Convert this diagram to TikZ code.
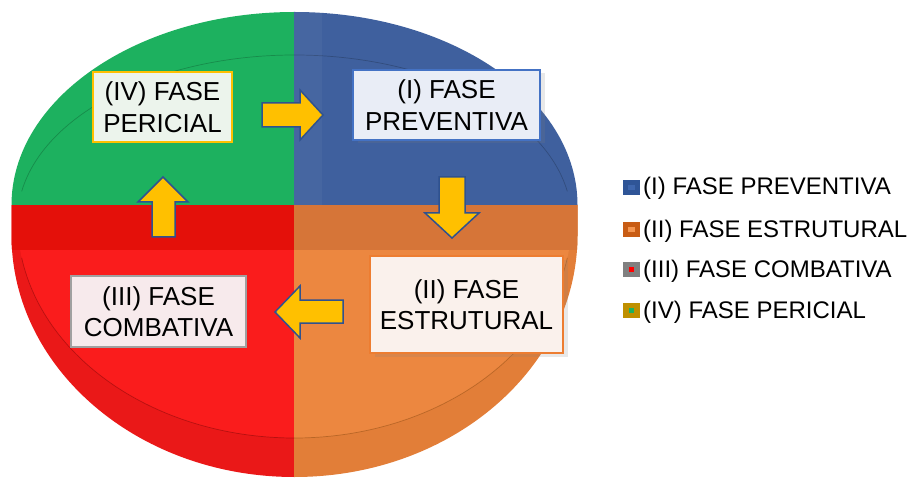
\documentclass[tikz,border=0pt]{standalone}
\usepackage{fontspec}
\setmainfont{Liberation Sans}
\usetikzlibrary{shadows}
\definecolor{pgreen}{RGB}{29,177,95}
\definecolor{pblue}{RGB}{63,96,158}
\definecolor{pred}{RGB}{250,28,28}
\definecolor{preddark}{RGB}{228,16,10}
\definecolor{predside}{RGB}{234,24,24}
\definecolor{porange}{RGB}{236,135,64}
\definecolor{porangedark}{RGB}{214,117,56}
\definecolor{porangeside}{RGB}{226,126,56}
\definecolor{arrowgold}{RGB}{255,192,0}
\definecolor{arrowedge}{RGB}{47,82,143}
\definecolor{bordgold}{RGB}{255,192,0}
\definecolor{bordblue}{RGB}{68,114,196}
\definecolor{bordorange}{RGB}{237,125,49}
\definecolor{bordgray}{RGB}{160,160,160}
\definecolor{fillgreen}{RGB}{236,244,236}
\definecolor{fillblue}{RGB}{233,237,246}
\definecolor{fillorange}{RGB}{250,241,236}
\definecolor{fillgray}{RGB}{247,234,236}
\definecolor{legblue}{RGB}{47,85,151}
\definecolor{legbluec}{RGB}{78,120,196}
\definecolor{legorange}{RGB}{200,92,20}
\definecolor{legorangec}{RGB}{244,150,80}
\definecolor{leggray}{RGB}{128,128,128}
\definecolor{leggold}{RGB}{191,144,0}
\begin{document}
\begin{tikzpicture}[x=1pt,y=-1pt,
  box/.style={draw, line width=1.8pt, align=center, inner sep=0pt,
    font=\fontsize{26}{31.5}\selectfont, text=black},
  blockarrow/.style={fill=arrowgold, draw=arrowedge, line width=1.5pt, line join=miter},
  legtext/.style={anchor=base west, inner sep=0pt, font=\fontsize{24}{28}\selectfont},
  faint/.style={line width=0.7pt, opacity=0.35}
]
\useasboundingbox (0,0) rectangle (912,478);
% pie silhouette
\path[save path=\piepath] (11.5,205) arc[start angle=180, end angle=360, x radius=283, y radius=193]
  -- (577.5,235) arc[start angle=0, end angle=180, x radius=283, y radius=242] -- cycle;
\begin{scope}
  \clip[use path=\piepath];
  \fill[pgreen] (0,0) rectangle (294,205);
  \fill[pblue] (294,0) rectangle (912,205);
  \fill[predside] (0,205) rectangle (294,478);
  \fill[porangeside] (294,205) rectangle (912,478);
  % top face (lower part)
  \begin{scope}
    \clip (294.5,220) ellipse[x radius=277, y radius=218];
    \fill[pred] (0,205) rectangle (294,478);
    \fill[porange] (294,205) rectangle (912,478);
  \end{scope}
  \fill[preddark] (0,205) rectangle (294,250);
  \fill[porangedark] (294,205) rectangle (912,250);
  % rim lines
  \draw[faint, black!70!red] (294.5,220) ++(170:277 and 218) arc[start angle=170, end angle=90, x radius=277, y radius=218];
  \draw[faint, black!60!orange] (294.5,220) ++(10:277 and 218) arc[start angle=10, end angle=90, x radius=277, y radius=218];
  \draw[faint, black!60!pgreen] (294.5,220) ++(190:277 and 165) arc[start angle=190, end angle=270, x radius=277, y radius=165];
  \draw[faint, black!60!pblue] (294.5,220) ++(270:277 and 165) arc[start angle=270, end angle=350, x radius=277, y radius=165];
  \fill[white, opacity=0.04] (294,0) rectangle (322,205);
\end{scope}
% boxes
\node[box, draw=bordgold, fill=fillgreen, minimum width=139pt, minimum height=70pt]
  (p4) at (162.5,107) {(IV) FASE\\PERICIAL};
\node[box, draw=bordblue, fill=fillblue, minimum width=187pt, minimum height=70pt,
  drop shadow={shadow xshift=5pt, shadow yshift=-3pt, opacity=0.18, fill=gray}]
  (p1) at (446.5,105) {(I) FASE\\PREVENTIVA};
\node[box, draw=bordorange, fill=fillorange, minimum width=193pt, minimum height=97pt,
  drop shadow={shadow xshift=5pt, shadow yshift=-4pt, opacity=0.18, fill=gray}]
  (p2) at (466.5,304.5) {(II) FASE\\ESTRUTURAL};
\node[box, draw=bordgray, fill=fillgray, minimum width=175pt, minimum height=71pt]
  (p3) at (158.5,311.5) {(III) FASE\\COMBATIVA};
% block arrows
\draw[blockarrow] (262,103) -- (300,103) -- (300,90) -- (323,115) -- (300,140) -- (300,127) -- (262,127) -- cycle;
\draw[blockarrow] (439,177) -- (465,177) -- (465,213) -- (479,213) -- (452,238) -- (425,213) -- (439,213) -- cycle;
\draw[blockarrow] (343,300) -- (300,300) -- (300,286) -- (275,312) -- (300,338) -- (300,323) -- (343,323) -- cycle;
\draw[blockarrow] (152,237) -- (152,202) -- (138,202) -- (163,177) -- (188,202) -- (175,202) -- (175,237) -- cycle;
% legend
\fill[legblue] (623,180) rectangle (640,195);
\fill[legbluec, opacity=0.5] (628,185) rectangle (635,190);
\node[legtext] (l1) at (643,195) {(I) FASE PREVENTIVA};
\fill[legorange] (623,222) rectangle (640,237);
\fill[legorangec] (628,227) rectangle (635,232);
\node[legtext] (l2) at (643,237) {(II) FASE ESTRUTURAL};
\fill[leggray] (623,262) rectangle (640,277);
\fill[red] (629,267) rectangle (634,272);
\node[legtext] (l3) at (643,277) {(III) FASE COMBATIVA};
\fill[leggold] (623,303) rectangle (640,318);
\fill[pgreen] (629,308) rectangle (634,313);
\node[legtext] (l4) at (643,318) {(IV) FASE PERICIAL};
\end{tikzpicture}
\end{document}
